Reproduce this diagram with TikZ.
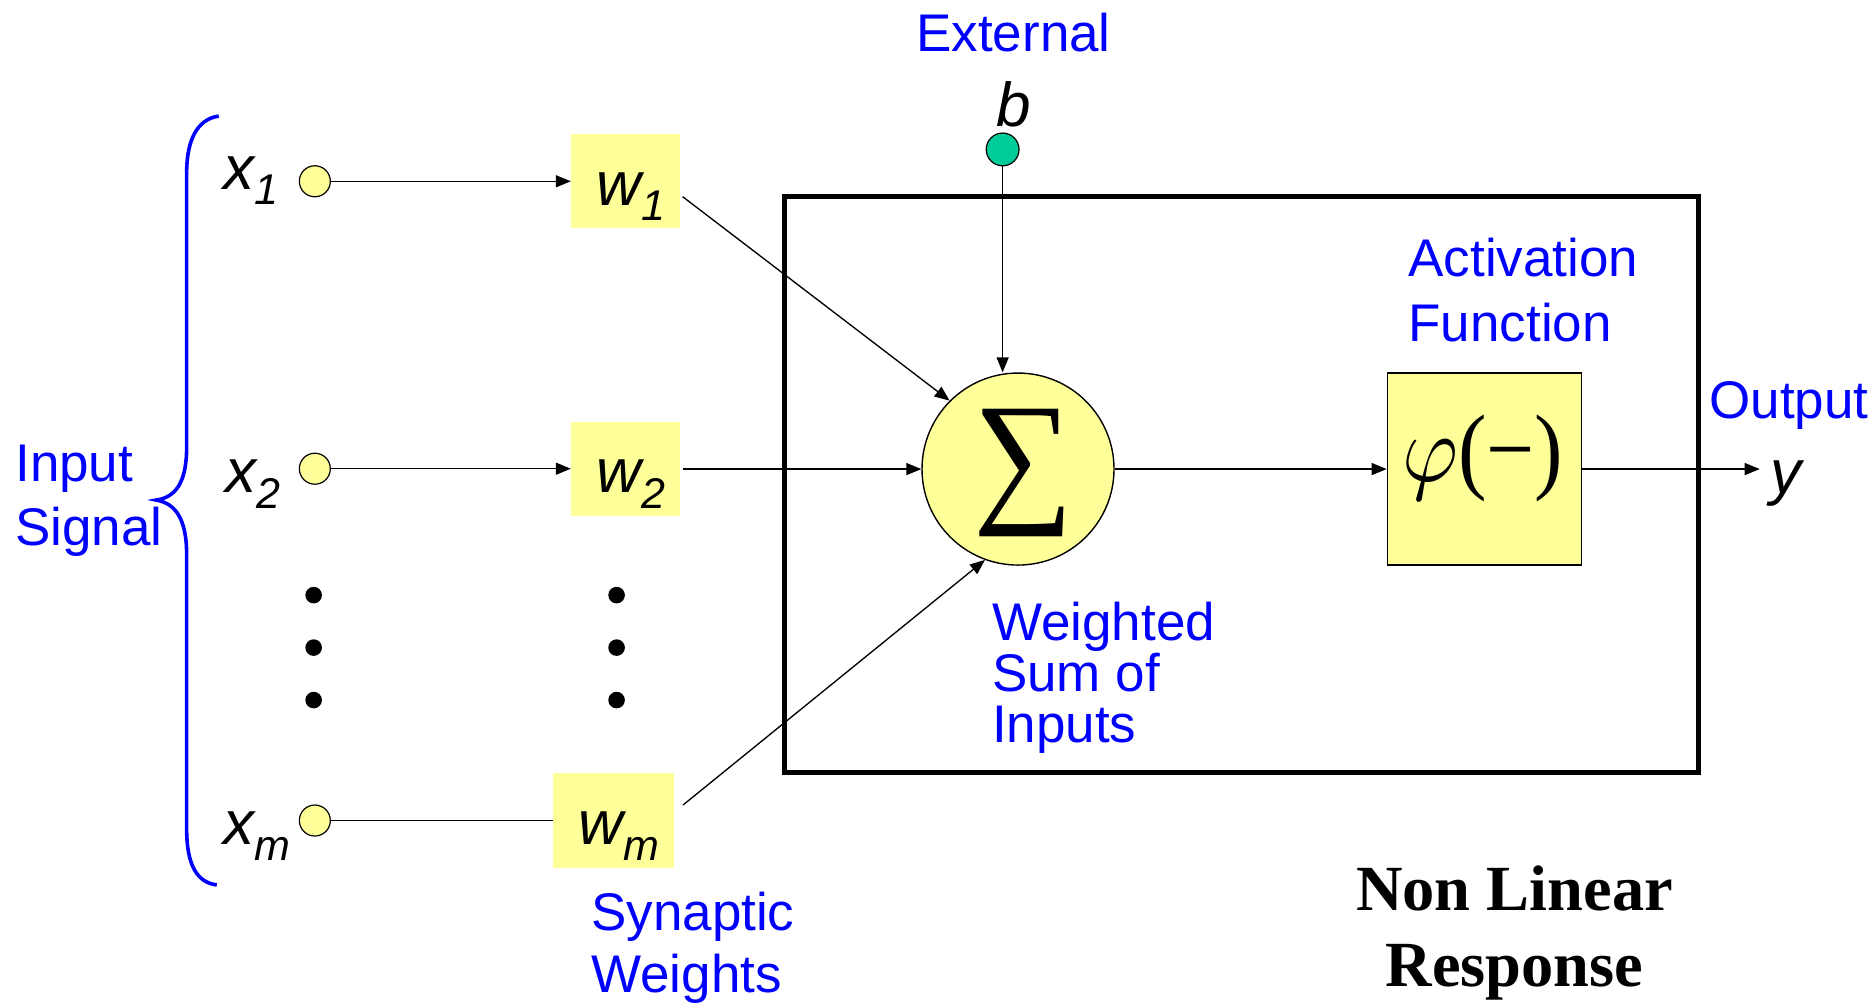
\documentclass[tikz,border=0pt]{standalone}
\usepackage{fontspec}
\setmainfont{Liberation Sans}
\newfontfamily\serifbold{Liberation Serif}
\usepackage{graphicx}
\usetikzlibrary{arrows.meta}
\definecolor{lblue}{RGB}{0,0,255}
\definecolor{pyellow}{HTML}{FFFF99}
\definecolor{bgreen}{HTML}{00CC99}
\tikzset{
 conn/.style={line width=0.67pt, -{Triangle[length=7.5pt,width=6pt]}},
 plainconn/.style={line width=0.67pt},
 wbox/.style={fill=pyellow, draw=none, inner sep=0, minimum width=54.3pt, minimum height=47.4pt},
 innode/.style={circle, draw=black, line width=0.6pt, fill=pyellow, inner sep=0, minimum size=15.5pt},
 dotnode/.style={circle, fill=black, inner sep=0, minimum size=8.3pt},
 bluelab/.style={text=lblue, font=\fontsize{26.5}{31}\selectfont, align=left, inner sep=0, anchor=north west},
 symlab/.style={font=\fontsize{31}{31}\selectfont\itshape, inner sep=0, anchor=base west},
}
\newcommand{\subl}[2]{#1\raisebox{-7.75pt}{\fontsize{21.5}{21.5}\selectfont #2}}
\begin{document}
\begin{tikzpicture}[x=0.5963pt,y=-0.5963pt]
\useasboundingbox (0,0) rectangle (1568,842);
\fill[white] (0,0) rectangle (1568,842);

% frame
\draw[line width=2.5pt] (658,165) rectangle (1424,648);

% input circles
\node[innode] (x1c) at (264,152) {};
\node[innode] (x2c) at (264,393) {};
\node[innode] (xmc) at (264,688) {};
\node[symlab] (x1l) at (187,158.6) {\subl{x}{1}};
\node[symlab] (x2l) at (189,413) {\subl{x}{2}};
\node[symlab] (xml) at (187,708.5) {\subl{x}{m}};

% weight boxes
\node[wbox] (w1) at (524.5,151.8) {};
\node[wbox] (w2) at (524.5,393.3) {};
\node[wbox, minimum width=60.4pt, minimum height=47.7pt] (wm) at (514.4,688) {};
\node[symlab] (w1l) at (500,172) {\subl{w}{1}};
\node[symlab] (w2l) at (500,413) {\subl{w}{2}};
\node[symlab] (wml) at (485,708.5) {\subl{w}{m}};

% dots
\foreach \yy in {499,543,587} {
  \node[dotnode] (dA\yy) at (263,\yy) {};
  \node[dotnode] (dB\yy) at (517,\yy) {};
}

% summing junction
\node[circle, draw, line width=0.7pt, fill=pyellow, minimum size=96pt, inner sep=0] (sigma) at (853.6,393.3) {};
\node[inner sep=0] (sumsym) at (858,396.4) {\resizebox*{50.1pt}{63.8pt}{\serifbold ∑}};

% activation
\node[draw, line width=0.7pt, fill=pyellow, minimum width=97.2pt, minimum height=96pt, inner sep=0] (phi) at (1244.8,393.3) {};
\node[inner sep=0] (phisym) at (1243.3,384.4) {\resizebox*{80.5pt}{43.5pt}{$\varphi$\serifbold(−)}};

% bias
\node[circle, draw, line width=0.6pt, fill=bgreen, minimum size=16.4pt, inner sep=0] (bc) at (840.7,125.3) {};
\node[symlab, anchor=base] (bl) at (850,106) {b};

% output
\node[symlab] (yl) at (1484,414) {y};
\coordinate (yend) at (1475.5,393.3);

% connectors
\draw[conn] (x1c.east) -- (x1c.east -| w1.west);
\draw[conn] (x2c.east) -- (x2c.east -| w2.west);
\draw[plainconn] (xmc.east) -- (xmc.east -| wm.west);
\coordinate (w1o) at (572.4,164.9);
\coordinate (w2o) at (572.4,393.3);
\coordinate (wmo) at (572.7,675);
\draw[conn] (w1o) -- (sigma.135);
\draw[conn] (w2o) -- (sigma.west);
\draw[conn] (wmo) -- (sigma.250);
\draw[conn] (bc.south) -- (bc.south |- sigma.north);
\draw[conn] (sigma.east) -- (phi.west);
\draw[conn] (phi.east) -- (yend);

% brace
\draw[lblue, line width=1.8pt] (183.4,97.3) .. controls (165,100) and (156.5,118) .. (156.5,145) -- (156.5,375) .. controls (156.5,405) and (147,417) .. (131,419.3) .. controls (147,422) and (156.5,435) .. (156.5,465) -- (156.5,695) .. controls (156.5,725) and (165,740) .. (181.8,742);

% labels
\node[bluelab] (ext) at (768,10.6) {External};
\node[bluelab, font=\fontsize{26.5}{32.6}\selectfont] (act) at (1180.7,199) {Activation\\Function};
\node[bluelab] (outl) at (1433,319.5) {Output};
\node[bluelab, font=\fontsize{26.5}{25.6}\selectfont] (wsum) at (831.5,504.5) {Weighted\\Sum of\\Inputs};
\node[bluelab, font=\fontsize{26.5}{32}\selectfont] (insig) at (12.5,373) {Input\\Signal};
\node[bluelab, font=\fontsize{26.5}{31}\selectfont] (syn) at (495.4,747.7) {Synaptic\\Weights};
\node[font=\serifbold\bfseries\fontsize{32.2}{38.3}\selectfont, align=center, inner sep=0, anchor=north] (nlr) at (1270,725.5) {Non Linear\\Response};
\end{tikzpicture}
\end{document}
